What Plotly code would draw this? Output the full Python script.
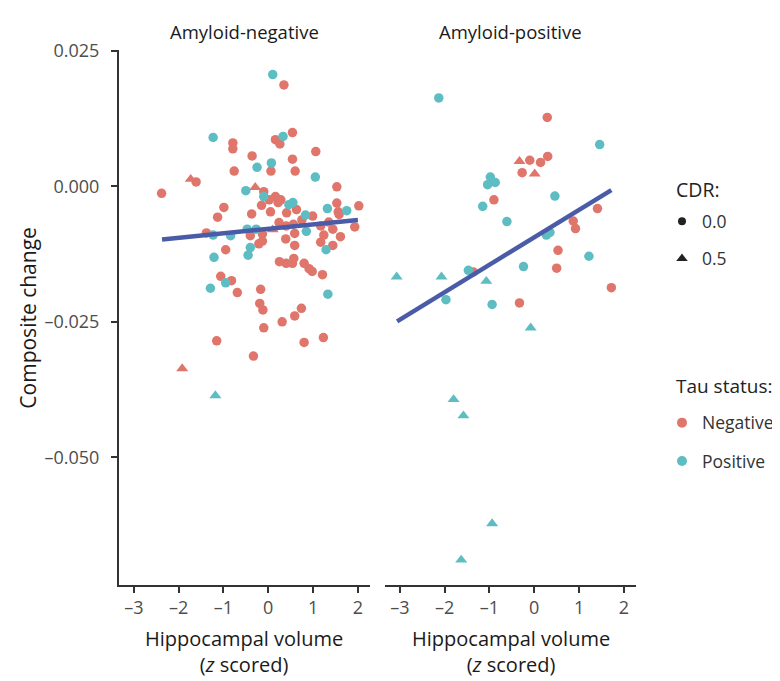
import plotly.graph_objects as go

# ---------------- data ----------------
# Amyloid-negative panel
neg_tauneg_cdr0_x = [0.35, -0.79, -0.79, 0.54, 0.16, 0.26, 1.06, -0.36, 0.54, -0.76, 0.06, 0.60,
                     -1.61, -2.38, 1.53, -0.10, 0.16, 0.02, 0.28, 0.22, -0.15, 1.53, 2.02, -0.99,
                     -1.13, -0.37, 0.05, 0.41, 0.63, 0.99, 1.56, 1.93, -1.38, -0.40, -0.13, 0.24,
                     0.40, 0.56, 1.17, 1.44, 1.58, 0.39, 0.59, 1.24, 1.61, 1.17, 1.44, -0.21,
                     -0.13, 0.59, -0.95, 0.25, 0.40, 0.57, 0.54, 0.80, 0.91, 0.98, 1.21, -1.06,
                     -0.82, -0.69, -0.17, -0.19, -0.12, 0.74, 0.59, 0.31, -0.10, -1.15, 1.23,
                     0.80, -0.33, 0.75, 1.35]
neg_tauneg_cdr0_y = [0.0187, 0.0080, 0.0069, 0.0099, 0.0086, 0.0078, 0.0064, 0.0056, 0.0050, 0.0028,
                     0.0028, 0.0028, 0.0008, -0.0013, -0.0001, -0.0010, -0.0019, -0.0025, -0.0025,
                     -0.0030, -0.0035, -0.0031, -0.0036, -0.0039, -0.0057, -0.0051, -0.0047,
                     -0.0049, -0.0043, -0.0055, -0.0047, -0.0075, -0.0086, -0.0091, -0.0088,
                     -0.0067, -0.0073, -0.0070, -0.0073, -0.0079, -0.0052, -0.0097, -0.0087,
                     -0.0090, -0.0093, -0.0103, -0.0109, -0.0106, -0.0101, -0.0109, -0.0117,
                     -0.0139, -0.0142, -0.0133, -0.0142, -0.0142, -0.0152, -0.0157, -0.0163,
                     -0.0166, -0.0174, -0.0196, -0.0190, -0.0216, -0.0228, -0.0225, -0.0239,
                     -0.0250, -0.0261, -0.0285, -0.0279, -0.0288, -0.0313, -0.0062, -0.0066]
neg_tauneg_cdr05_x = [-1.73, -0.29, 0.10, -1.92]
neg_tauneg_cdr05_y = [0.0013, -0.0002, -0.0080, -0.0336]
neg_taupos_cdr0_x = [0.10, -1.23, 0.33, 0.07, -0.25, 1.05, -0.50, -0.10, 0.46, 0.55, 1.32, 1.75,
                     0.83, -1.23, -0.84, -0.47, -0.27, 0.85, -0.40, -0.45, 1.29, -1.21, -0.95,
                     -1.29, 1.33]
neg_taupos_cdr0_y = [0.0206, 0.0090, 0.0092, 0.0043, 0.0035, 0.0017, -0.0008, -0.0019, -0.0034,
                     -0.0030, -0.0041, -0.0045, -0.0053, -0.0090, -0.0091, -0.0079, -0.0079,
                     -0.0083, -0.0113, -0.0127, -0.0117, -0.0131, -0.0178, -0.0188, -0.0199]
neg_taupos_cdr05_x = [-1.18]
neg_taupos_cdr05_y = [-0.0386]
neg_fit_x = [-2.37, 2.00]
neg_fit_y = [-0.0098, -0.0062]

# Amyloid-positive panel
pos_tauneg_cdr0_x = [0.29, -0.10, 0.14, 0.30, -0.27, -0.90, 1.41, 0.87, 0.92, 0.53, 0.50, 1.72,
                     -1.36, -0.33]
pos_tauneg_cdr0_y = [0.0127, 0.0048, 0.0044, 0.0055, 0.0025, -0.0025, -0.0041, -0.0064, -0.0078,
                     -0.0118, -0.0151, -0.0187, -0.0158, -0.0215]
pos_tauneg_cdr05_x = [-0.33, 0.01]
pos_tauneg_cdr05_y = [0.0046, 0.0023]
pos_taupos_cdr0_x = [-2.13, 1.46, -0.98, -1.04, -0.87, 0.46, -1.15, -0.61, 0.27, 0.35, 1.22,
                     -0.24, -1.47, -1.97, -0.94]
pos_taupos_cdr0_y = [0.0163, 0.0077, 0.0017, 0.0003, 0.0007, -0.0018, -0.0037, -0.0065, -0.0090,
                     -0.0085, -0.0129, -0.0148, -0.0155, -0.0209, -0.0218]
pos_taupos_cdr05_x = [-3.07, -2.07, -1.07, -0.08, -1.80, -1.58, -0.94, -1.63]
pos_taupos_cdr05_y = [-0.0167, -0.0167, -0.0175, -0.0261, -0.0393, -0.0423, -0.0622, -0.0689]
pos_fit_x = [-3.06, 1.72]
pos_fit_y = [-0.0249, -0.0007]

panel_titles = ["Amyloid-negative", "Amyloid-positive"]
x_tick_vals = [-3, -2, -1, 0, 1, 2]
x_tick_text = ["\u20133", "\u20132", "\u20131", "0", "1", "2"]
y_tick_vals = [0.025, 0.0, -0.025, -0.050]
y_tick_text = ["0.025", "0.000", "\u20130.025", "\u20130.050"]
cdr_labels = ["0.0", "0.5"]
tau_labels = ["Negative", "Positive"]

# ---------------- styling ----------------
W, H = 780, 681
RED = "#E0766B"
TEAL = "#5EBDC2"
LINE = "#4A5BA8"
AX = "#333333"
FONT = "Open Sans"
CIRC = 9.5
TRI = 10.5
PLOT_TOP, PLOT_BOTTOM = 31, 575

def px_x(p):
    return p / W

def px_y(p):
    return 1 - p / H

fig = go.Figure()

def add_pts(x, y, color, symbol, size, xa, ya):
    fig.add_trace(go.Scatter(x=x, y=y, mode="markers", xaxis=xa, yaxis=ya,
                             marker=dict(color=color, symbol=symbol, size=size,
                                         line=dict(width=0)),
                             showlegend=False, hoverinfo="x+y"))

add_pts(neg_tauneg_cdr0_x, neg_tauneg_cdr0_y, RED, "circle", CIRC, "x", "y")
add_pts(neg_taupos_cdr0_x, neg_taupos_cdr0_y, TEAL, "circle", CIRC, "x", "y")
add_pts(neg_tauneg_cdr05_x, neg_tauneg_cdr05_y, RED, "triangle-up", TRI, "x", "y")
add_pts(neg_taupos_cdr05_x, neg_taupos_cdr05_y, TEAL, "triangle-up", TRI, "x", "y")
fig.add_trace(go.Scatter(x=neg_fit_x, y=neg_fit_y, mode="lines", xaxis="x", yaxis="y",
                         line=dict(color=LINE, width=4.5), showlegend=False))

add_pts(pos_tauneg_cdr0_x, pos_tauneg_cdr0_y, RED, "circle", CIRC, "x2", "y2")
add_pts(pos_taupos_cdr0_x, pos_taupos_cdr0_y, TEAL, "circle", CIRC, "x2", "y2")
add_pts(pos_tauneg_cdr05_x, pos_tauneg_cdr05_y, RED, "triangle-up", TRI, "x2", "y2")
add_pts(pos_taupos_cdr05_x, pos_taupos_cdr05_y, TEAL, "triangle-up", TRI, "x2", "y2")
fig.add_trace(go.Scatter(x=pos_fit_x, y=pos_fit_y, mode="lines", xaxis="x2", yaxis="y2",
                         line=dict(color=LINE, width=4.5), showlegend=False))

# legend entries (each in its own legend for exact placement)
legend_specs = [
    (cdr_labels[0], "#222222", "circle", 8, "legend", 205),
    (cdr_labels[1], "#222222", "triangle-up", 10, "legend2", 243),
    (tau_labels[0], RED, "circle", 10, "legend3", 410),
    (tau_labels[1], TEAL, "circle", 10, "legend4", 449),
]
legend_layout = {}
for name, col, sym, sz, lg, yc in legend_specs:
    fig.add_trace(go.Scatter(x=[None], y=[None], mode="markers", name=name,
                             marker=dict(color=col, symbol=sym, size=sz),
                             legend=lg, showlegend=True, xaxis="x", yaxis="y"))
    legend_layout[lg] = dict(x=px_x(654), xanchor="left", y=px_y(yc), yanchor="middle",
                             bgcolor="rgba(0,0,0,0)", borderwidth=0,
                             font=dict(family=FONT, size=17.5, color="#333333"),
                             itemwidth=30, tracegroupgap=0)

x_range = [-3.33, 2.27]
y_range = [-0.0735, 0.02505]

axis_common = dict(showgrid=False, zeroline=False, showline=True, linecolor=AX, linewidth=2,
                   ticks="outside", ticklen=6, tickwidth=2, tickcolor=AX,
                   tickfont=dict(family=FONT, size=18, color="#4d4d4d"))

fig.update_layout(
    width=W, height=H,
    margin=dict(l=0, r=0, t=0, b=0),
    paper_bgcolor="white", plot_bgcolor="white",
    font=dict(family=FONT, color="#222222"),
    xaxis=dict(domain=[px_x(111), px_x(362)], range=x_range, anchor="y",
               tickvals=x_tick_vals, ticktext=x_tick_text, ticklabelstandoff=0,
               **axis_common),
    xaxis2=dict(domain=[px_x(377), px_x(628)], range=x_range, anchor="y2",
                tickvals=x_tick_vals, ticktext=x_tick_text, ticklabelstandoff=0,
                **axis_common),
    yaxis=dict(domain=[px_y(PLOT_BOTTOM), px_y(PLOT_TOP)], range=y_range, anchor="x",
               tickvals=y_tick_vals, ticktext=y_tick_text, ticklabelstandoff=8,
               **axis_common),
    yaxis2=dict(domain=[px_y(PLOT_BOTTOM), px_y(PLOT_TOP)], range=y_range, anchor="x2",
                showgrid=False, zeroline=False, showline=False, ticks="",
                showticklabels=False),
    **legend_layout,
)

ann = []
for t, cx in zip(panel_titles, [236.5, 502.5]):
    ann.append(dict(text=t, x=px_x(cx), y=px_y(12), xref="paper", yref="paper",
                    xanchor="center", yanchor="middle", showarrow=False,
                    font=dict(family=FONT, size=18.5, color="#1a1a1a")))
    ann.append(dict(text="Hippocampal volume<br>(<i>z</i> scored)", x=px_x(cx), y=px_y(643),
                    xref="paper", yref="paper", xanchor="center", yanchor="middle",
                    showarrow=False, font=dict(family=FONT, size=20, color="#1a1a1a")))
ann.append(dict(text="Composite change", x=px_x(20), y=px_y(303), xref="paper", yref="paper",
                xanchor="center", yanchor="middle", textangle=-90, showarrow=False,
                font=dict(family=FONT, size=21, color="#1a1a1a")))
ann.append(dict(text="CDR:", x=px_x(666), y=px_y(173), xref="paper", yref="paper",
                xanchor="left", yanchor="middle", showarrow=False,
                font=dict(family=FONT, size=19.5, color="#222222")))
ann.append(dict(text="Tau status:", x=px_x(666), y=px_y(373), xref="paper", yref="paper",
                xanchor="left", yanchor="middle", showarrow=False,
                font=dict(family=FONT, size=19, color="#222222")))
fig.update_layout(annotations=ann)

fig.write_html("out.html")
